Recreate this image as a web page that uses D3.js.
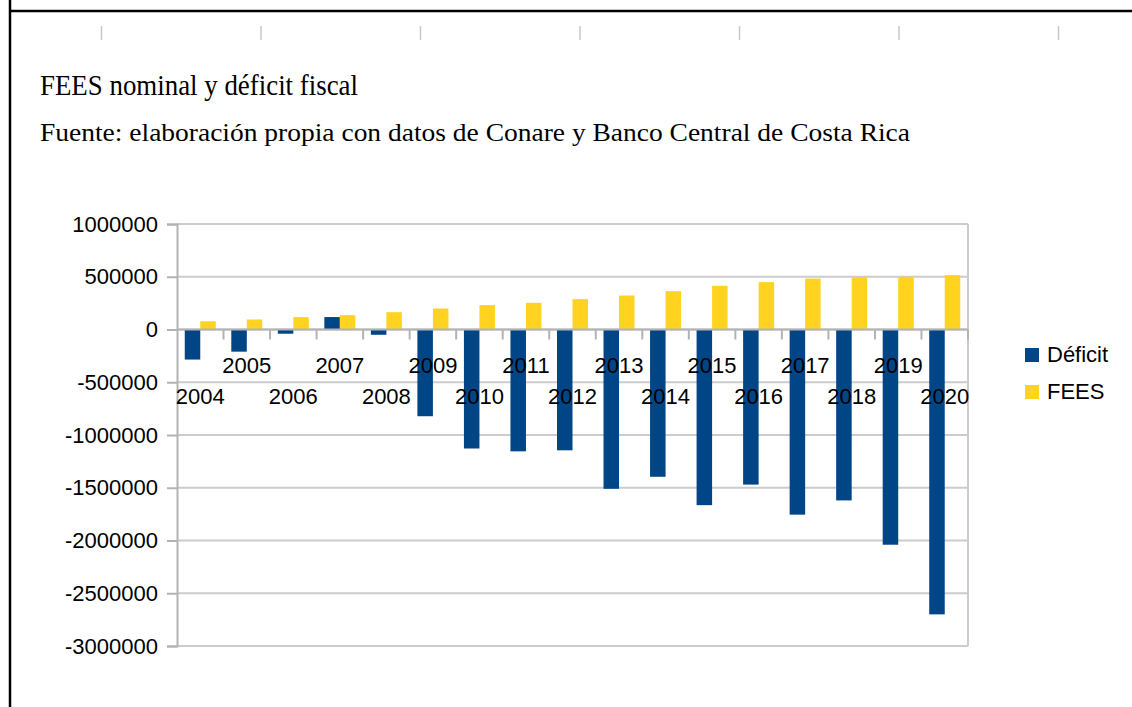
<!DOCTYPE html>
<html>
<head>
<meta charset="utf-8">
<script src="https://cdn.jsdelivr.net/npm/d3@7"></script>
<style>
  body { margin: 0; background: #fff; }
  svg { display: block; }
</style>
</head>
<body>
<svg id="chart" width="1132" height="707"></svg>
<script>
// years on the x axis
var years = ["2004", "2005", "2006", "2007", "2008", "2009", "2010", "2011", "2012",
             "2013", "2014", "2015", "2016", "2017", "2018", "2019", "2020"];

// deficit fiscal (nominal)
var deficit = [-285000, -210000, -40000, 118000, -50000, -822000, -1128000, -1155000, -1145000,
               -1510000, -1396000, -1665000, -1470000, -1755000, -1620000, -2040000, -2700000];

// FEES nominal
var fees = [78000, 95000, 117000, 136000, 164000, 199000, 231000, 253000, 288000,
            322000, 363000, 414000, 449000, 483000, 496000, 499000, 515000];

var seriesNames = ["Déficit", "FEES"];
var seriesColors = ["#004586", "#ffd320"];
var yTicks = [1000000, 500000, 0, -500000, -1000000, -1500000, -2000000, -2500000, -3000000];

var title = "FEES nominal y déficit fiscal";
var subtitle = "Fuente: elaboración propia con datos de Conare y Banco Central de Costa Rica";

var sans = "Liberation Sans, Arial, sans-serif",
    serif = "Liberation Serif, Times New Roman, serif";

var svg = d3.select("#chart");

svg.append("rect")
  .attr("width", 1132).attr("height", 707)
  .attr("fill", "#fff");

// sheet frame lines
svg.append("line")
  .attr("x1", 10).attr("x2", 10).attr("y1", 0).attr("y2", 707)
  .attr("stroke", "#000").attr("stroke-width", 2.5);
svg.append("line")
  .attr("x1", 10).attr("x2", 1132).attr("y1", 11).attr("y2", 11)
  .attr("stroke", "#000").attr("stroke-width", 2.5);

// faint ruler marks at the top
svg.selectAll(".ruler")
  .data(d3.range(7))
  .enter().append("line")
  .attr("class", "ruler")
  .attr("x1", function(d) { return 101.5 + d * 159.5; })
  .attr("x2", function(d) { return 101.5 + d * 159.5; })
  .attr("y1", 26).attr("y2", 40)
  .attr("stroke", "#c8c8c8").attr("stroke-width", 1.5);

// titles
svg.append("text")
  .attr("x", 40).attr("y", 95)
  .attr("font-family", serif)
  .attr("font-size", "30px")
  .attr("textLength", 318)
  .attr("lengthAdjust", "spacingAndGlyphs")
  .attr("fill", "#000")
  .text(title);

svg.append("text")
  .attr("x", 40).attr("y", 141)
  .attr("font-family", serif)
  .attr("font-size", "25px")
  .attr("textLength", 870)
  .attr("lengthAdjust", "spacingAndGlyphs")
  .attr("fill", "#000")
  .text(subtitle);

var margin = {top: 224, left: 177},
    width = 968 - 177,
    height = 646 - 224;

var g = svg.append("g")
  .attr("transform", "translate(" + margin.left + "," + margin.top + ")");

var x0 = d3.scaleBand()
  .domain(years)
  .range([0, width])
  .paddingInner(0)
  .paddingOuter(0);

var x1 = d3.scaleBand()
  .domain(seriesNames)
  .range([0, x0.bandwidth()])
  .paddingInner(0)
  .paddingOuter(0.5);

var y = d3.scaleLinear()
  .domain([-3000000, 1000000])
  .range([height, 0]);

// horizontal gridlines
g.selectAll(".grid")
  .data(yTicks)
  .enter().append("line")
  .attr("class", "grid")
  .attr("x1", 0).attr("x2", width)
  .attr("y1", function(d) { return y(d); })
  .attr("y2", function(d) { return y(d); })
  .attr("stroke", "#cccccc")
  .attr("stroke-width", 2);

// right border of plot area
g.append("line")
  .attr("x1", width).attr("x2", width)
  .attr("y1", 0).attr("y2", height)
  .attr("stroke", "#cccccc").attr("stroke-width", 2);

// y axis, plain hyphen for negatives
var yAxis = d3.axisLeft(y)
  .tickValues(yTicks)
  .tickSize(10)
  .tickPadding(9)
  .tickFormat(function(d) { return String(d); });

var yAxisG = g.append("g")
  .attr("class", "yaxis")
  .call(yAxis);

yAxisG.select(".domain").attr("stroke", "#b3b3b3").attr("stroke-width", 2);
yAxisG.selectAll(".tick line").attr("stroke", "#b3b3b3").attr("stroke-width", 2);
yAxisG.selectAll(".tick text")
  .attr("font-family", sans)
  .attr("font-size", "22px")
  .attr("fill", "#000");

// bars
var rows = years.map(function(yr, i) {
  return {year: yr, values: [{key: "Déficit", value: deficit[i]}, {key: "FEES", value: fees[i]}]};
});

var color = d3.scaleOrdinal().domain(seriesNames).range(seriesColors);

g.selectAll(".year")
  .data(rows)
  .enter().append("g")
  .attr("class", "year")
  .attr("transform", function(d) { return "translate(" + x0(d.year) + ",0)"; })
  .selectAll("rect")
  .data(function(d) { return d.values; })
  .enter().append("rect")
  .attr("x", function(d) { return x1(d.key); })
  .attr("width", x1.bandwidth())
  .attr("y", function(d) { return y(Math.max(0, d.value)); })
  .attr("height", function(d) { return Math.abs(y(d.value) - y(0)); })
  .attr("fill", function(d) { return color(d.key); });

// x axis at zero
g.append("line")
  .attr("x1", 0).attr("x2", width)
  .attr("y1", y(0)).attr("y2", y(0))
  .attr("stroke", "#b3b3b3").attr("stroke-width", 2);

g.selectAll(".xtick")
  .data(years.slice(1).concat(["end"]))
  .enter().append("line")
  .attr("class", "xtick")
  .attr("x1", function(d, i) { return x0.step() * (i + 1); })
  .attr("x2", function(d, i) { return x0.step() * (i + 1); })
  .attr("y1", y(0)).attr("y2", y(0) + 10)
  .attr("stroke", "#b3b3b3").attr("stroke-width", 2);

// staggered year labels
g.selectAll(".xlabel")
  .data(years)
  .enter().append("text")
  .attr("class", "xlabel")
  .attr("x", function(d) { return x0(d) + x0.bandwidth() / 2; })
  .attr("y", function(d, i) { return y(0) + (i % 2 === 0 ? 74 : 43); })
  .attr("text-anchor", "middle")
  .attr("font-family", sans)
  .attr("font-size", "22px")
  .attr("fill", "#000")
  .text(function(d) { return d; });

// legend
var legend = svg.selectAll(".legend")
  .data(seriesNames)
  .enter().append("g")
  .attr("class", "legend")
  .attr("transform", function(d, i) { return "translate(1025," + (348 + i * 37) + ")"; });

legend.append("rect")
  .attr("width", 14).attr("height", 14)
  .attr("fill", function(d) { return color(d); });

legend.append("text")
  .attr("x", 22).attr("y", 14)
  .attr("font-family", sans)
  .attr("font-size", "22px")
  .attr("fill", "#000")
  .text(function(d) { return d; });
</script>
</body>
</html>
